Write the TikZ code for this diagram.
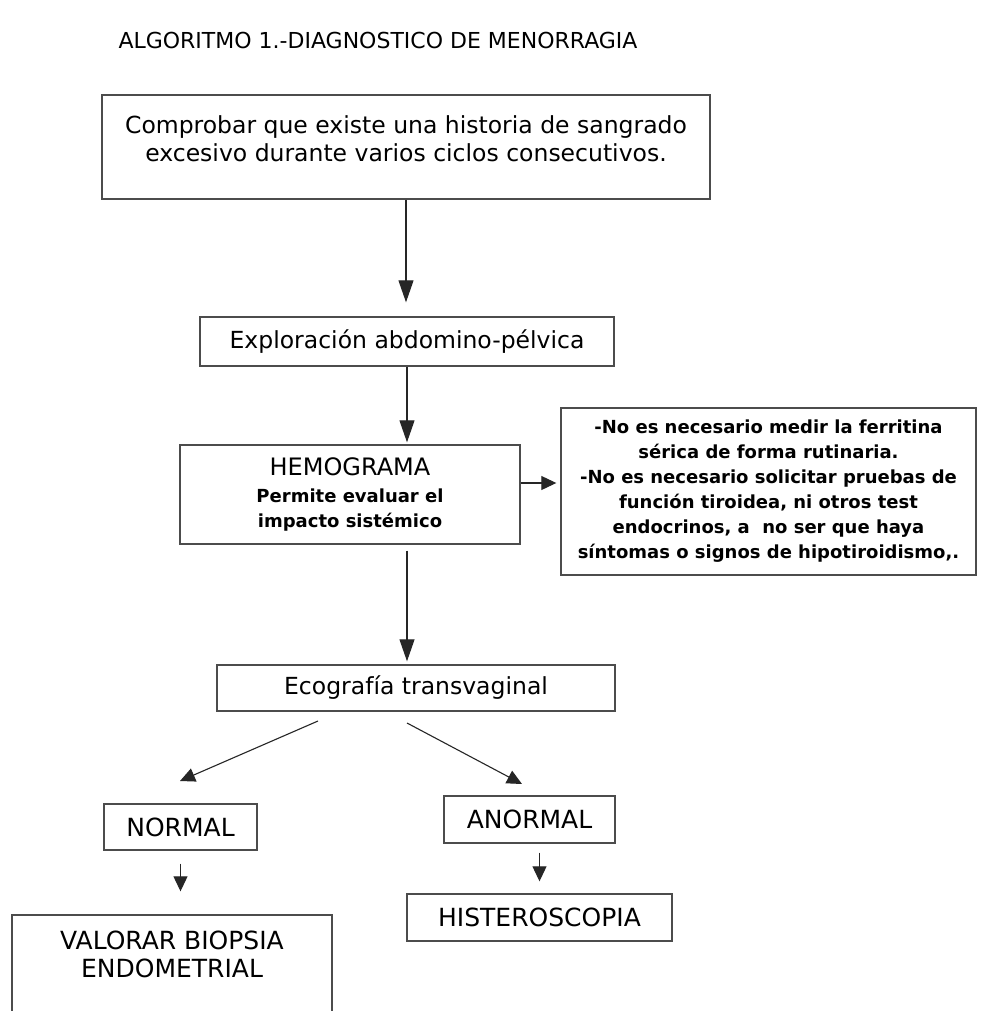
\documentclass[tikz,border=0pt]{standalone}
\usepackage{fontspec}
\setmainfont{DejaVu Sans}
\usetikzlibrary{arrows.meta}

\begin{document}
\begin{tikzpicture}[x=1pt, y=-1pt,
          box/.style={draw=black!70, line width=1.4pt, inner sep=0pt, align=center},
          txt/.style={font=\fontsize{23.5}{28}\selectfont},
          caps/.style={font=\fontsize{25}{28}\selectfont},
          bold/.style={font=\fontsize{18}{25}\selectfont\bfseries},
          arrow/.style={-{Triangle[length=22pt, width=15pt]}, line width=1.1pt, black!85},
          small arrow/.style={-{Triangle[length=15pt, width=14pt]}, line width=1.1pt, black!85}
        ]
          \clip (0,0) rectangle (981,1011);
          \fill[white] (0,0) rectangle (981,1011);

          \node[font=\fontsize{22}{24}\selectfont] (title) at (378,40) {ALGORITMO 1.-DIAGNOSTICO DE MENORRAGIA};

          \node[box, minimum width=608pt, minimum height=104pt] (check) at (406,147) {};
          \node[txt, align=center] (checktext) at (406,139) {Comprobar que existe una historia de sangrado\\excesivo durante varios ciclos consecutivos.};
          \node[box, txt, minimum width=414pt, minimum height=49pt] (explore) at (407,341.5) {Exploración abdomino-pélvica};
          \node[box, bold, minimum width=340pt, minimum height=99pt] (hemo) at (350,494.5)
            {{\mdseries\fontsize{24}{24}\selectfont HEMOGRAMA}\\[2pt]Permite evaluar el\\impacto sistémico};
          \node[box, bold, minimum width=415pt, minimum height=167pt] (note) at (768.5,491.5)
            {-No es necesario medir la ferritina\\sérica de forma rutinaria.\\-No es necesario solicitar pruebas de\\función tiroidea, ni otros test\\endocrinos, a~ no ser que haya\\síntomas o signos de hipotiroidismo,.};
          \node[box, txt, minimum width=398pt, minimum height=46pt] (eco) at (416,688) {Ecografía transvaginal};
          \node[box, caps, minimum width=153pt, minimum height=46pt] (normal) at (180.5,827) {NORMAL};
          \node[box, caps, minimum width=171pt, minimum height=47pt] (anormal) at (529.5,819.5) {ANORMAL};
          \node[box, caps, minimum width=265pt, minimum height=47pt] (hist) at (539.5,917.5) {HISTEROSCOPIA};
          \node[box, minimum width=320pt, minimum height=130pt] (valorar) at (172,980) {};
          \node[caps, align=center] (valtext) at (172,954) {VALORAR BIOPSIA\\ENDOMETRIAL};

          \coordinate (ecoleft) at (318,721);
          \coordinate (normalin) at (180,781);
          \coordinate (ecomid) at (407,723);
          \coordinate (anormalin) at (522,784);

          \draw[arrow, shorten >=14pt] (check) -- (check.south |- explore.north);
          \draw[arrow, shorten >=2pt] (explore) -- (explore.south |- hemo.north);
          \draw[small arrow, shorten >=4pt] ([yshift=11.5pt]hemo.east) -- ([yshift=11.5pt]hemo.east -| note.west);
          \draw[arrow, shorten <=6pt, shorten >=3pt] (hemo.south -| explore.south) -- (explore.south |- eco.north);
          \draw[small arrow] (ecoleft) -- (normalin);
          \draw[small arrow] (ecomid) -- (anormalin);
          \draw[small arrow, shorten <=13pt, shorten >=23pt] (normal.south) -- (normal.south |- valorar.north);
          \draw[small arrow, shorten <=9pt, shorten >=12pt] (anormal.south -| hist.north) -- (hist.north);
        \end{tikzpicture}
\end{document}
